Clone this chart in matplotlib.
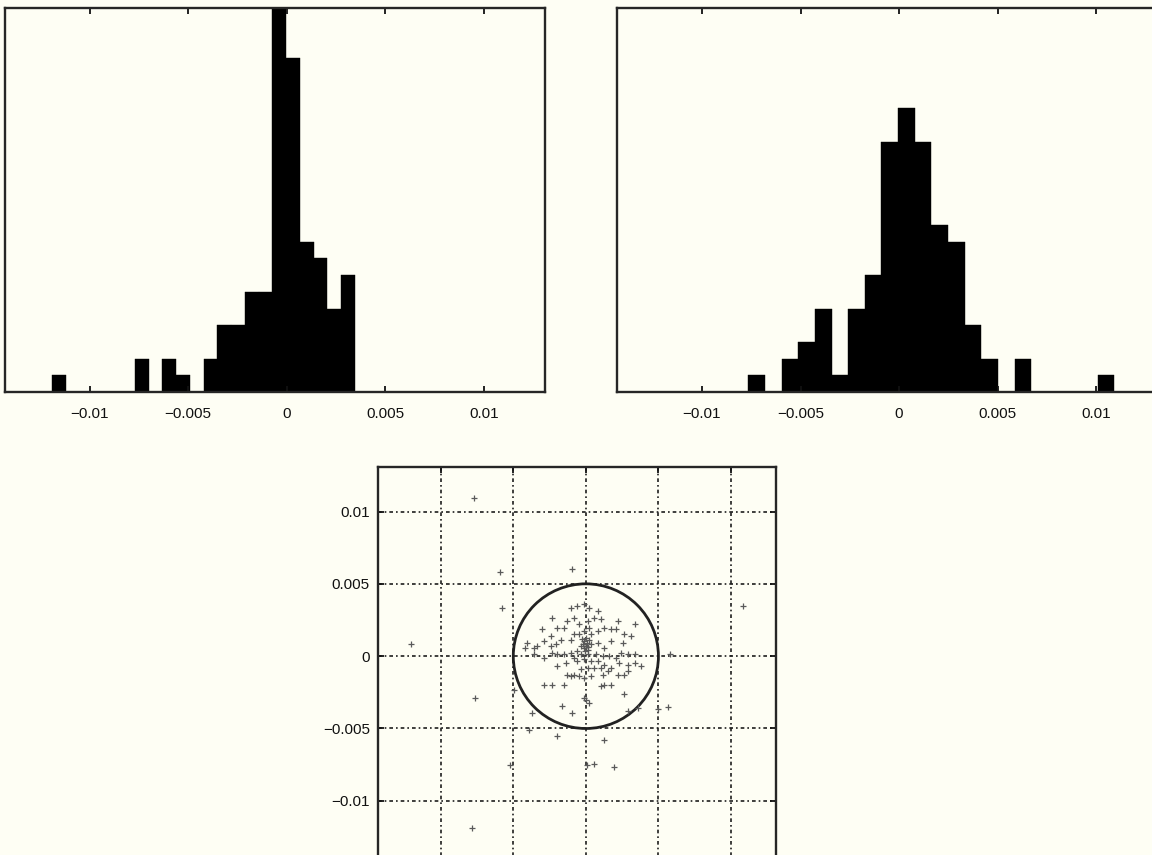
import numpy as np
import matplotlib
matplotlib.use("Agg")
import matplotlib.pyplot as plt
from matplotlib.patches import Circle

# histogramas (22 classes cada um)
left_counts = [1, 0, 0, 0, 0, 0, 2, 0, 2, 1, 0, 2, 4, 4, 6, 6, 23, 20, 9, 8, 5, 7]
left_range = (-0.01189, 0.00345)
right_counts = [1, 0, 2, 3, 5, 1, 5, 7, 15, 17, 15, 10, 9, 4, 2, 0, 2, 0, 0, 0, 0, 1]
right_range = (-0.00765, 0.01093)

ticks = [-0.01, -0.005, 0, 0.005, 0.01]
tick_labels = ["\u22120.01", "\u22120.005", "0", "0.005", "0.01"]
axis_lim = (-0.0143, 0.0131)
hist_ymax = 23

# nuvem de pontos (valores em milesimos)
scat_x = [-7.69, -5.95, -0.97, -5.79, -12.04, 10.81, 5.79, -7.64, 5.67, 4.98,
          -3.94, -1.97, 1.27, -5.21, 0.07, 0.58, 1.92, -7.87, -1.62, -0.93,
          2.89, 3.59, 0.0, 0.23, 2.66, -4.98, -3.70,
          -1.04, -0.58, -0.12, 0.23, 0.81, -0.81, -1.27, -1.97, -2.43, -2.89,
          -3.36, -4.05, -3.59, -3.01, -2.31, -1.50, -0.46, 0.12, 0.58, 1.04,
          1.27, 1.74, 2.20, 2.08, 2.66, 3.13, 3.36, 2.55, 1.74, 1.27,
          0.81, 0.35, -0.12, -0.35, 0.12, -0.58, -1.04, -1.50, -1.97, -2.31,
          -2.43, -1.74, -2.08, -1.04, -0.81, 0.35, 0.81, -0.12, -0.46, 0.23,
          2.43, 2.89, 3.36, 3.82, 3.36, 2.89, 2.31, 1.74, 1.27, 1.04,
          0.81, 1.50, 1.16, 1.27, 1.74, 1.04, 0.35, -0.12, -0.46, -0.81,
          -1.04, -1.27, -0.35, 0.12, 0.58, 0.35, -0.12, -0.58, -1.39, -1.97,
          -2.89, -2.31, -1.50, -0.12, 2.66, 2.89, 2.20, 1.62, 2.08, 1.16,
          0.69, 0.12, -0.35, -0.81, -2.89, -3.59, -4.17,
          0.0, 0.07, -0.16, 0.16, -0.07, -0.23, 0.0, 0.23, -0.30]
scat_y = [10.96, 5.84, 6.00, 3.34, 0.81, 3.46, 0.12, -2.88, -3.53, -3.62,
          -5.07, -5.54, -5.77, -7.50, -7.50, -7.45, -7.68, -11.88, -3.46, -3.92,
          -3.81, -3.58, -3.00, -3.23, -2.61, -2.31, -3.92,
          3.34, 3.46, 3.58, 3.34, 3.11, 2.65, 2.42, 1.96, 1.38, 1.04,
          0.69, 0.92, 0.58, 1.85, 2.65, 1.96, 2.19, 2.42, 2.65, 2.54,
          1.96, 1.85, 2.42, 1.85, 1.50, 1.38, 2.19, 0.92, 1.04, 0.58,
          0.92, 0.81, 1.04, 0.69, 0.46, 0.35, 0.23, 0.12, 0.12, 0.23,
          0.69, 1.15, 0.81, 1.15, 1.50, 1.50, 1.73, 1.73, 1.50, 1.96,
          0.23, 0.12, 0.12, -0.69, -0.46, -0.58, -0.46, -0.81, -0.58, -0.81,
          -0.35, -1.04, -1.27, -1.96, -1.96, -2.08, -1.38, -1.50, -1.38, -1.27,
          -1.38, -1.27, -0.92, -0.81, -0.81, -0.35, -0.23, -0.35, -0.46, -0.69,
          -1.96, -1.96, -1.96, -2.88, -1.27, -1.04, -1.27, 0.0, -0.12, 0.0,
          0.12, 0.12, 0.12, -0.12, -0.12, 0.12, 0.58,
          0.69, 0.92, 0.58, 0.62, 0.35, 0.85, 1.27, 1.15, 1.22]
raio = 0.005

fundo = "#fefef4"
cor_linha = "#1e1e1e"


def estiloEixo(ax, mostrarY):
    ax.set_facecolor(fundo)
    for s in ax.spines.values():
        s.set_linewidth(1.7)
        s.set_color("#262626")
    ax.set_xlim(axis_lim)
    ax.set_xticks(ticks)
    ax.set_xticklabels(tick_labels, fontsize=11, family="Liberation Sans")
    ax.tick_params(direction="in", length=4, width=1.3, top=True, right=mostrarY,
                   left=mostrarY, pad=11, colors="#111")


def desenhaHist(ax, counts, faixa):
    arestas = np.linspace(faixa[0], faixa[1], len(counts) + 1)
    ax.bar(arestas[:-1], counts, width=np.diff(arestas), align="edge",
           color="black", edgecolor="black", linewidth=0.3)
    estiloEixo(ax, False)
    ax.set_ylim(0, hist_ymax)
    ax.set_yticks([])


fig = plt.figure(figsize=(11.52, 8.55), dpi=100, facecolor=fundo)

ax1 = fig.add_axes([0.0043, 0.5415, 0.46875, 0.4491])
desenhaHist(ax1, left_counts, left_range)

ax2 = fig.add_axes([0.5358, 0.5415, 0.46875, 0.4491])
desenhaHist(ax2, right_counts, right_range)

# grafico de dispersao (eixo x cortado na borda inferior, sem rotulos visiveis)
ax3 = fig.add_axes([0.3284, -0.0094, 0.3452, 0.4636])
estiloEixo(ax3, True)
ax3.set_xticklabels([])
ax3.set_ylim(axis_lim)
ax3.set_yticks(ticks)
ax3.set_yticklabels(tick_labels, fontsize=11, family="Liberation Sans")
ax3.tick_params(axis="y", pad=6)
ax3.grid(True, color=cor_linha, linewidth=1.2, linestyle=(0, (2.2, 1.8, 1, 1.8)))
ax3.plot(np.array(scat_x) / 1000, np.array(scat_y) / 1000, "+", color="#5a5a5a",
         markersize=4, markeredgewidth=0.9)
ax3.add_patch(Circle((0, 0), raio, fill=False, edgecolor="#222", linewidth=2.0))

fig.savefig("out.png", dpi=100, facecolor=fundo)
